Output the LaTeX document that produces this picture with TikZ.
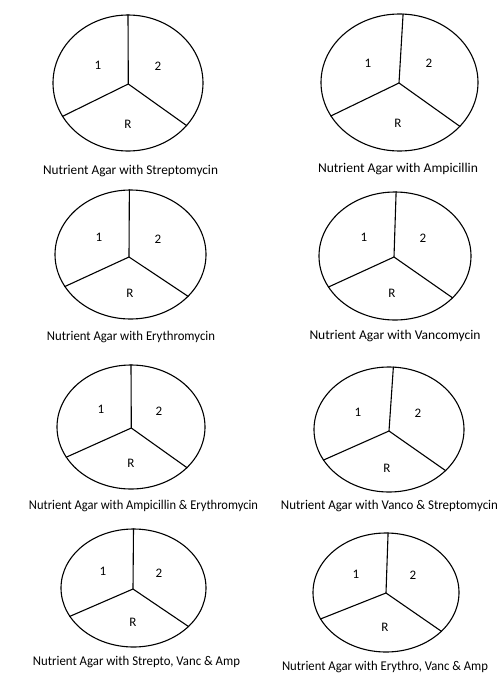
\documentclass[tikz,border=0pt]{standalone}
\usepackage{fontspec}
\usepackage{graphicx}
\setmainfont{Carlito}
\usetikzlibrary{shapes.geometric}
\begin{document}
\begin{tikzpicture}[x=1pt,y=-1pt,
  plate/.style={draw,ellipse,line width=1.1pt,inner sep=0pt},
  divider/.style={line width=1.1pt},
  seclabel/.style={font=\fontsize{13}{15}\selectfont,inner sep=0pt},
  caption/.style={font=\fontsize{13.4}{16}\selectfont,inner sep=0pt}]
\useasboundingbox (0,0) rectangle (501,680);
\foreach \n/\cx/\cy/\rx/\ry/\dx/\dy/\ta/\la/\ra/\ax/\ay/\bx/\by/\rrx/\rry/\capx/\capy/\capw/\txt in {
 1/128/83/75/68/128.3/84/90.4/207.6/324.4/98/65/158/66/128/124/130.5/171/175/{Nutrient Agar with Streptomycin},
 2/399.5/82.5/78.5/68.5/399/83/87.9/206.1/324/368/63/429/63/398/123/398/169/160/{Nutrient Agar with Ampicillin},
 3/130.5/254.5/75.5/64.5/129/257/91.3/206.7/324.2/99/237/158/239/130/293/131/337/168/{Nutrient Agar with Erythromycin},
 4/395/256/76/64/394/257/89/205.2/324.3/364/237/423/238/392/293/395/336/171/{Nutrient Agar with Vancomycin},
 5/131/427/74/62/131.3/428/90.4/205.5/324.5/101/409/159/411/131/463/143.5/506/229/{Nutrient Agar with Ampicillin \& Erythromycin},
 6/389/429.5/75/62.5/389/431/86.3/205.5/324.8/358/412/418/413/387/468/389.5/506/217/{Nutrient Agar with Vanco \& Streptomycin},
 7/133.5/588/72.5/59/133/589/90.6/204.5/325.1/103/571/159/573/133/622/136.5/662/207/{Nutrient Agar with Strepto, Vanc \& Amp},
 8/386/592.5/73/59.5/386/593/88/202.9/325.7/356/574/413/575/385/627/385/667/206/{Nutrient Agar with Erythro, Vanc \& Amp}}
{
  \node[plate,minimum width=2*\rx pt,minimum height=2*\ry pt] (e\n) at (\cx,\cy) {};
  \coordinate (d\n) at (\dx,\dy);
  \draw[divider] (d\n) -- (e\n.\ta);
  \draw[divider] (d\n) -- (e\n.\la);
  \draw[divider] (d\n) -- (e\n.\ra);
  \node[seclabel] (one\n) at (\ax,\ay) {1};
  \node[seclabel] (two\n) at (\bx,\by) {2};
  \node[seclabel] (r\n) at (\rrx,\rry) {R};
  \node[caption] (cap\n) at (\capx,\capy) {\resizebox{\capw pt}{\height}{\txt}};
}
\end{tikzpicture}
\end{document}
